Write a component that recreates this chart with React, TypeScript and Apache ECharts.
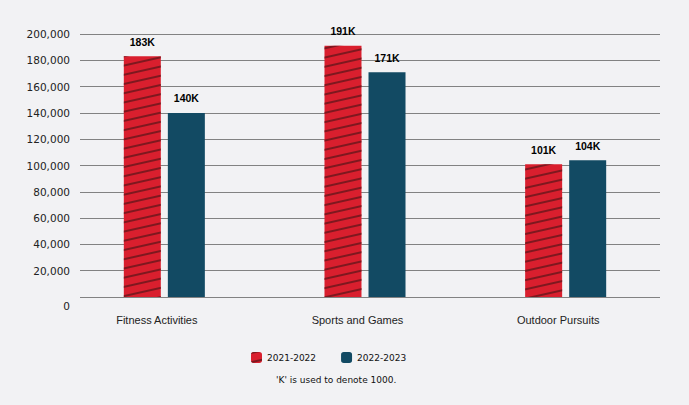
import React, { useEffect, useRef } from "react";
import * as echarts from "echarts";

const categories = ["Fitness Activities", "Sports and Games", "Outdoor Pursuits"];
const series2122 = [183000, 191000, 101000];
const series2223 = [140000, 171000, 104000];
const seriesNames = ["2021-2022", "2022-2023"];
const footnote = "'K' is used to denote 1000.";

export default function App() {
  const ref = useRef<HTMLDivElement>(null);
  useEffect(() => {
    if (!ref.current) return;
    const chart = echarts.init(ref.current, null, { renderer: "svg" });
    const labelFmt = (p: any) => Math.round(p.value / 1000) + "K";
    const barLabel = {
      show: true,
      position: "top",
      distance: 9,
      formatter: labelFmt,
      fontFamily: "Liberation Sans",
      fontWeight: "bold",
      fontSize: 10.5,
      color: "#000",
    };
    chart.setOption({
      animation: false,
      backgroundColor: "#f2f2f4",
      grid: [
        { left: 80, right: 29, top: 34, bottom: 108 },
        { left: 64, right: 23, top: 34, bottom: 108 },
      ],
      xAxis: [
        { type: "category", gridIndex: 0, data: categories, show: false },
        {
          type: "category",
          gridIndex: 1,
          data: categories,
          axisLine: { show: false },
          axisTick: { show: false },
          axisLabel: {
            fontFamily: "Liberation Sans",
            fontSize: 11,
            color: "#222",
            margin: 17,
            padding: [0, 15, 0, 0],
          },
        },
      ],
      yAxis: [
        {
          type: "value",
          gridIndex: 0,
          min: 0,
          max: 200000,
          interval: 20000,
          axisLine: { show: false },
          axisTick: { show: false },
          splitLine: { lineStyle: { color: "#828282", width: 1 } },
          axisLabel: {
            fontFamily: "DejaVu Sans",
            fontSize: 10.5,
            color: "#222",
            margin: 10,
            formatter: (v: number) =>
              v === 0 ? "{z|0}" : v.toLocaleString("en-US"),
            rich: { z: { padding: [18, 0, 0, 0], fontFamily: "DejaVu Sans", fontSize: 10.5, color: "#222" } },
          },
        },
        { type: "value", gridIndex: 1, min: 0, max: 200000, show: false, splitLine: { show: false } },
      ],
      legend: {
        bottom: 37,
        left: 246,
        itemWidth: 11,
        itemHeight: 11,
        itemGap: 25,
        textStyle: { fontFamily: "DejaVu Sans", fontSize: 9, color: "#111" },
        data: seriesNames,
      },
      graphic: [
        {
          type: "text",
          left: 276,
          top: 375,
          style: {
            text: footnote,
            fontFamily: "DejaVu Sans",
            fontSize: 9,
            fill: "#111",
          },
        },
      ],
      series: [
        {
          name: seriesNames[0],
          type: "bar",
          xAxisIndex: 1,
          yAxisIndex: 1,
          data: series2122,
          barWidth: 37,
          barGap: "19%",
          itemStyle: {
            color: "#d91f2e",
            decal: {
              symbol: "rect",
              symbolSize: 1,
              dashArrayX: [1, 0],
              dashArrayY: [2, 6.5],
              rotation: -0.22,
              color: "rgba(110,22,28,0.85)",
            },
          },
          label: barLabel,
        },
        {
          name: seriesNames[1],
          type: "bar",
          xAxisIndex: 1,
          yAxisIndex: 1,
          data: series2223,
          barWidth: 37,
          itemStyle: { color: "#124a63" },
          label: barLabel,
        },
      ],
    });
    return () => chart.dispose();
  }, []);
  return <div ref={ref} style={{ width: 689, height: 405, position: "absolute", left: 0, top: 0 }} />;
}
